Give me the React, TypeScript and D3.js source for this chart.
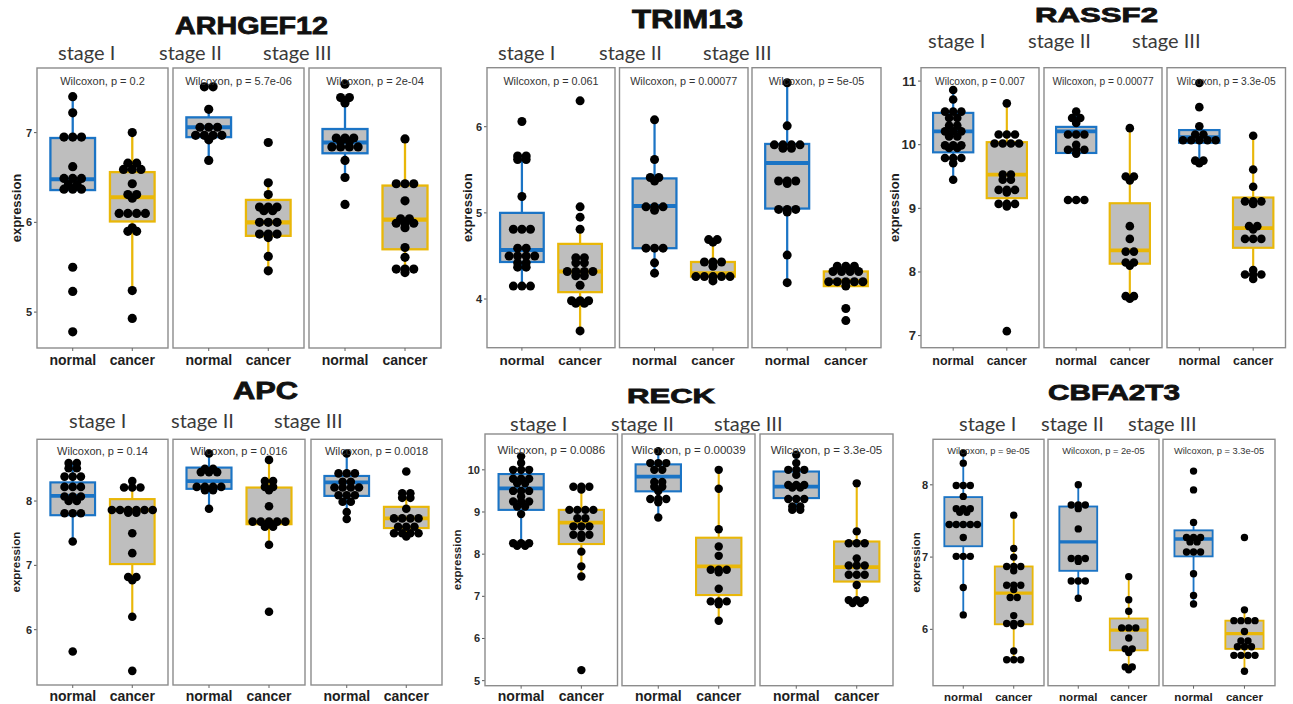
import React from "react";
import * as d3 from "d3";

// ---- shared categories ----
const stages = ["stage I", "stage II", "stage III"];
const groups = ["normal", "cancer"];

// Box stats per stage: [lower whisker, q1, median, q3, upper whisker]

// ---- ARHGEF12 ----
const arhgef12Normal = [
  [7.4, 7.22, 6.95, 6.95, 6.95, 6.62, 6.49, 6.49, 6.49, 6.42, 6.42, 6.37, 6.37, 6.37, 5.5, 5.23, 4.78],
  [7.51, 7.51, 7.26, 7.06, 7.06, 7.06, 6.97, 6.97, 6.97, 6.97, 6.92, 6.69],
  [7.54, 7.39, 7.39, 7.33, 6.94, 6.94, 6.94, 6.9, 6.9, 6.84, 6.84, 6.84, 6.84, 6.69, 6.5, 6.2],
];
const arhgef12Cancer = [
  [7.0, 6.66, 6.66, 6.59, 6.59, 6.59, 6.43, 6.31, 6.31, 6.27, 6.1, 6.1, 6.1, 6.1, 5.94, 5.9, 5.9, 5.24, 4.93],
  [6.89, 6.44, 6.31, 6.17, 6.17, 6.17, 6.13, 6.13, 6.0, 6.0, 6.0, 5.87, 5.87, 5.87, 5.83, 5.62, 5.46],
  [6.93, 6.43, 6.43, 6.43, 6.24, 6.04, 6.04, 5.99, 5.99, 5.99, 5.94, 5.72, 5.61, 5.48, 5.48, 5.48, 5.44],
];
const arhgef12NormalBox = [
  [6.36, 6.36, 6.48, 6.94, 7.4],
  [6.69, 6.95, 7.06, 7.17, 7.26],
  [6.5, 6.77, 6.89, 7.04, 7.39],
];
const arhgef12CancerBox = [
  [5.24, 6.01, 6.28, 6.56, 7.0],
  [5.46, 5.85, 6.0, 6.25, 6.44],
  [5.44, 5.7, 6.03, 6.41, 6.93],
];
const arhgef12P = ["0.2", "5.7e-06", "2e-04"];
const arhgef12Ticks = [5, 6, 7];

// ---- TRIM13 ----
const trim13Normal = [
  [6.06, 5.66, 5.66, 5.62, 5.62, 5.19, 4.81, 4.81, 4.81, 4.59, 4.59, 4.5, 4.5, 4.5, 4.5, 4.42, 4.42, 4.37, 4.37, 4.15, 4.15, 4.15],
  [6.08, 5.62, 5.41, 5.41, 5.37, 5.07, 5.07, 5.07, 5.03, 4.59, 4.59, 4.59, 4.42, 4.3],
  [6.51, 6.01, 5.79, 5.79, 5.79, 5.79, 5.75, 5.75, 5.37, 5.37, 5.37, 5.34, 5.04, 5.04, 5.04, 5.01, 4.51, 4.19],
];
const trim13Cancer = [
  [6.3, 5.07, 4.95, 4.81, 4.48, 4.48, 4.42, 4.42, 4.32, 4.32, 4.32, 4.32, 4.27, 4.27, 4.16, 3.98, 3.98, 3.98, 3.95, 3.95, 3.63],
  [4.69, 4.69, 4.66, 4.43, 4.43, 4.43, 4.38, 4.26, 4.26, 4.26, 4.26, 4.26, 4.21],
  [4.38, 4.38, 4.38, 4.32, 4.32, 4.32, 4.32, 4.2, 4.2, 4.2, 4.2, 4.2, 4.15, 3.89, 3.75],
];
const trim13NormalBox = [
  [4.15, 4.43, 4.57, 5.0, 5.62],
  [4.3, 4.59, 5.08, 5.4, 6.08],
  [4.19, 5.05, 5.58, 5.8, 6.51],
];
const trim13CancerBox = [
  [3.63, 4.08, 4.32, 4.64, 4.81],
  [4.21, 4.26, 4.3, 4.43, 4.69],
  [4.15, 4.15, 4.21, 4.32, 4.38],
];
const trim13P = ["0.061", "0.00077", "5e-05"];
const trim13Ticks = [4, 5, 6];

// ---- RASSF2 ----
const rassf2Normal = [
  [10.86, 10.71, 10.52, 10.52, 10.52, 10.42, 10.42, 10.3, 10.3, 10.21, 10.21, 10.21, 10.13, 10.13, 9.99, 9.99, 9.99, 9.95, 9.95, 9.79, 9.79, 9.79, 9.71, 9.45],
  [10.52, 10.42, 10.42, 10.34, 10.16, 10.16, 10.16, 10.0, 9.92, 9.92, 9.92, 9.86, 9.13, 9.13, 9.13],
  [10.97, 10.59, 10.29, 10.16, 10.16, 10.07, 10.07, 10.07, 10.07, 10.07, 9.75, 9.75, 9.71],
];
const rassf2Cancer = [
  [10.65, 10.16, 10.16, 10.16, 10.02, 10.02, 10.02, 10.02, 9.53, 9.53, 9.45, 9.45, 9.29, 9.29, 9.29, 9.25, 9.07, 9.07, 9.07, 9.03, 7.07],
  [10.26, 9.5, 9.5, 9.44, 8.72, 8.52, 8.32, 8.32, 8.15, 8.15, 8.1, 7.62, 7.62, 7.58],
  [10.14, 9.61, 9.34, 9.11, 9.11, 9.11, 9.07, 8.72, 8.72, 8.67, 8.52, 8.52, 8.52, 8.03, 7.96, 7.96, 7.96, 7.89],
];
const rassf2NormalBox = [
  [9.45, 9.88, 10.21, 10.5, 10.86],
  [9.87, 9.87, 10.21, 10.28, 10.52],
  [9.71, 10.03, 10.12, 10.23, 10.29],
];
const rassf2CancerBox = [
  [9.03, 9.16, 9.53, 10.04, 10.65],
  [7.58, 8.13, 8.34, 9.08, 10.26],
  [7.89, 8.38, 8.69, 9.17, 10.14],
];
const rassf2P = ["0.007", "0.00077", "3.3e-05"];
const rassf2Ticks = [7, 8, 9, 10, 11];

// ---- APC ----
const apcNormal = [
  [8.59, 8.59, 8.51, 8.51, 8.38, 8.38, 8.38, 8.22, 8.22, 8.22, 8.07, 8.07, 8.07, 8.0, 8.0, 7.81, 7.81, 7.81, 7.37, 5.66],
  [8.74, 8.5, 8.5, 8.45, 8.45, 8.45, 8.22, 8.22, 8.22, 8.22, 8.17, 8.17, 7.88],
  [8.74, 8.43, 8.43, 8.43, 8.3, 8.3, 8.21, 8.21, 8.21, 8.21, 8.09, 8.09, 8.09, 7.99, 7.99, 7.83, 7.72],
];
const apcCancer = [
  [8.31, 8.21, 8.21, 8.21, 7.86, 7.86, 7.86, 7.86, 7.86, 7.86, 7.82, 7.82, 7.5, 7.19, 6.82, 6.82, 6.77, 6.2, 5.36],
  [8.64, 8.31, 8.31, 8.22, 8.22, 8.17, 7.92, 7.68, 7.68, 7.68, 7.68, 7.68, 7.6, 7.6, 7.32, 6.28],
  [8.46, 8.12, 8.12, 8.05, 8.05, 7.88, 7.73, 7.73, 7.73, 7.73, 7.6, 7.6, 7.6, 7.5, 7.5, 7.5, 7.5, 7.45],
];
const apcNormalBox = [
  [7.37, 7.78, 8.08, 8.29, 8.59],
  [7.88, 8.19, 8.31, 8.52, 8.74],
  [7.72, 8.08, 8.29, 8.39, 8.74],
];
const apcCancerBox = [
  [6.2, 7.02, 7.86, 8.03, 8.31],
  [7.32, 7.64, 7.68, 8.21, 8.64],
  [7.45, 7.58, 7.73, 7.91, 8.05],
];
const apcP = ["0.14", "0.016", "0.0018"];
const apcTicks = [6, 7, 8];

// ---- RECK ----
const reckNormal = [
  [10.32, 10.16, 10.0, 10.0, 10.0, 9.79, 9.79, 9.79, 9.68, 9.68, 9.5, 9.5, 9.5, 9.37, 9.25, 9.25, 9.25, 9.13, 9.13, 8.95, 8.26, 8.26, 8.26, 8.2, 8.2],
  [10.44, 10.16, 10.16, 10.16, 10.0, 10.0, 9.71, 9.71, 9.6, 9.6, 9.5, 9.31, 9.31, 9.31, 9.23, 8.87],
  [10.36, 10.16, 10.0, 10.0, 10.0, 9.88, 9.64, 9.64, 9.64, 9.58, 9.58, 9.31, 9.31, 9.31, 9.13, 9.13, 9.05, 9.05],
];
const reckCancer = [
  [9.6, 9.6, 9.6, 9.53, 9.05, 9.05, 9.05, 9.05, 8.85, 8.85, 8.66, 8.66, 8.66, 8.46, 8.46, 8.46, 8.39, 8.06, 7.71, 7.47, 5.25],
  [10.0, 9.55, 8.59, 8.18, 7.96, 7.63, 7.63, 7.63, 7.57, 7.18, 6.88, 6.88, 6.88, 6.81, 6.42],
  [9.68, 8.54, 8.26, 8.26, 8.26, 7.9, 7.73, 7.73, 7.73, 7.51, 7.51, 7.51, 7.27, 6.91, 6.91, 6.91, 6.84, 6.84],
];
const reckNormalBox = [
  [8.2, 9.05, 9.56, 9.9, 10.32],
  [8.87, 9.49, 9.84, 10.13, 10.44],
  [9.05, 9.33, 9.6, 9.96, 10.36],
];
const reckCancerBox = [
  [7.47, 8.24, 8.75, 9.05, 9.6],
  [6.42, 7.03, 7.71, 8.39, 10.0],
  [6.84, 7.35, 7.69, 8.3, 9.68],
];
const reckP = ["0.0086", "0.00039", "3.3e-05"];
const reckTicks = [5, 6, 7, 8, 9, 10];

// ---- CBFA2T3 ----
const cbfa2t3Normal = [
  [8.44, 8.3, 7.99, 7.99, 7.99, 7.84, 7.67, 7.67, 7.67, 7.62, 7.62, 7.45, 7.45, 7.45, 7.45, 7.45, 7.27, 7.01, 7.01, 7.01, 6.58, 6.2],
  [8.0, 7.72, 7.72, 7.72, 7.67, 7.39, 6.98, 6.98, 6.98, 6.94, 6.67, 6.67, 6.67, 6.43],
  [8.19, 7.93, 7.48, 7.27, 7.27, 7.27, 7.21, 7.21, 7.07, 7.07, 7.07, 6.77, 6.47, 6.35],
];
const cbfa2t3Cancer = [
  [7.58, 7.12, 7.0, 6.87, 6.87, 6.87, 6.81, 6.61, 6.61, 6.61, 6.55, 6.44, 6.44, 6.19, 6.08, 6.08, 6.08, 6.05, 5.7, 5.58, 5.58, 5.58],
  [6.73, 6.41, 6.25, 6.02, 6.02, 6.02, 5.88, 5.73, 5.73, 5.68, 5.48, 5.48, 5.44],
  [7.27, 6.27, 6.12, 6.12, 6.12, 6.12, 5.97, 5.84, 5.84, 5.76, 5.76, 5.76, 5.64, 5.64, 5.64, 5.64, 5.42],
];
const cbfa2t3NormalBox = [
  [6.2, 7.15, 7.45, 7.83, 8.44],
  [6.43, 6.81, 7.21, 7.7, 8.0],
  [6.35, 7.01, 7.25, 7.37, 7.48],
];
const cbfa2t3CancerBox = [
  [5.58, 6.07, 6.5, 6.87, 7.58],
  [5.44, 5.71, 5.99, 6.15, 6.73],
  [5.42, 5.73, 5.94, 6.12, 6.27],
];
const cbfa2t3P = ["9e-05", "2e-05", "3.3e-05"];
const cbfa2t3Ticks = [6, 7, 8];

// ---- styling ----
const BLUE = "#1b74c5";
const YELLOW = "#e9b708";
const BOX_FILL = "#bebebe";
const BORDER = "#8c8c8c";
const TEXT = "#1e1e1e";

type Layout = {
  title: string;
  titleX: number; titleY: number; titleW: number; titleSize: number;
  stageX: number[]; stageY: number; stageSize: number;
  facets: [number, number][];
  top: number; bottom: number; domain: [number, number];
  pY: number; pSize: number;
  tickSize: number; ylabX: number; ylabSize: number;
  xlabY: number; xlabSize: number; r: number;
};

type PanelData = {
  normal: number[][]; cancer: number[][];
  normalBox: number[][]; cancerBox: number[][];
  p: string[]; ticks: number[];
};

const layouts: Layout[] = [
  {
    title: "ARHGEF12", titleX: 175, titleY: 34, titleW: 153, titleSize: 24,
    stageX: [58, 159, 263], stageY: 60, stageSize: 20,
    facets: [[37, 168], [173, 304], [309, 441]],
    top: 68, bottom: 348, domain: [4.6, 7.72],
    pY: 81, pSize: 11, tickSize: 11, ylabX: 16, ylabSize: 13,
    xlabY: 365, xlabSize: 14, r: 4.6,
  },
  {
    title: "TRIM13", titleX: 632, titleY: 28, titleW: 111, titleSize: 25,
    stageX: [498, 599, 703], stageY: 60, stageSize: 20,
    facets: [[487, 615], [619.5, 748], [752, 881]],
    top: 67.7, bottom: 347.7, domain: [3.435, 6.685],
    pY: 81, pSize: 10.8, tickSize: 11, ylabX: 467, ylabSize: 13,
    xlabY: 365, xlabSize: 13.5, r: 4.5,
  },
  {
    title: "RASSF2", titleX: 1035, titleY: 22, titleW: 123, titleSize: 21,
    stageX: [928, 1028, 1132], stageY: 48, stageSize: 20,
    facets: [[921, 1039], [1044, 1162], [1167, 1285.5]],
    top: 67.7, bottom: 347.7, domain: [6.81, 11.21],
    pY: 81, pSize: 10.2, tickSize: 13, ylabX: 894, ylabSize: 13,
    xlabY: 365, xlabSize: 12.5, r: 4.3,
  },
  {
    title: "APC", titleX: 233, titleY: 399, titleW: 65, titleSize: 24,
    stageX: [69, 171, 274], stageY: 428, stageSize: 20,
    facets: [[37, 168], [173, 305], [311, 442]],
    top: 439.3, bottom: 685, domain: [5.14, 8.96],
    pY: 451, pSize: 11, tickSize: 11, ylabX: 15.5, ylabSize: 11.5,
    xlabY: 701, xlabSize: 14, r: 4.3,
  },
  {
    title: "RECK", titleX: 627, titleY: 402.5, titleW: 88, titleSize: 20.5,
    stageX: [510, 611, 714], stageY: 431, stageSize: 20,
    facets: [[485, 617.5], [622, 755], [760, 893]],
    top: 434, bottom: 685.7, domain: [4.88, 10.85],
    pY: 449.5, pSize: 11.5, tickSize: 11, ylabX: 456.5, ylabSize: 11.5,
    xlabY: 701, xlabSize: 14, r: 4.2,
  },
  {
    title: "CBFA2T3", titleX: 1048, titleY: 400, titleW: 132, titleSize: 22,
    stageX: [959, 1041, 1128], stageY: 431, stageSize: 20,
    facets: [[933, 1044], [1048, 1159], [1163, 1275]],
    top: 439.3, bottom: 685.7, domain: [5.22, 8.63],
    pY: 451, pSize: 9.3, tickSize: 11, ylabX: 916, ylabSize: 11.5,
    xlabY: 701, xlabSize: 11.5, r: 3.7,
  },
];

const panelData: PanelData[] = [
  { normal: arhgef12Normal, cancer: arhgef12Cancer, normalBox: arhgef12NormalBox, cancerBox: arhgef12CancerBox, p: arhgef12P, ticks: arhgef12Ticks },
  { normal: trim13Normal, cancer: trim13Cancer, normalBox: trim13NormalBox, cancerBox: trim13CancerBox, p: trim13P, ticks: trim13Ticks },
  { normal: rassf2Normal, cancer: rassf2Cancer, normalBox: rassf2NormalBox, cancerBox: rassf2CancerBox, p: rassf2P, ticks: rassf2Ticks },
  { normal: apcNormal, cancer: apcCancer, normalBox: apcNormalBox, cancerBox: apcCancerBox, p: apcP, ticks: apcTicks },
  { normal: reckNormal, cancer: reckCancer, normalBox: reckNormalBox, cancerBox: reckCancerBox, p: reckP, ticks: reckTicks },
  { normal: cbfa2t3Normal, cancer: cbfa2t3Cancer, normalBox: cbfa2t3NormalBox, cancerBox: cbfa2t3CancerBox, p: cbfa2t3P, ticks: cbfa2t3Ticks },
];

const SANS = "'Liberation Sans', Arial, sans-serif";

function Panel({ L, D }: { L: Layout; D: PanelData }) {
  const y = d3.scaleLinear().domain(L.domain).range([L.bottom, L.top]);
  const r = L.r;
  const lw = Math.max(1.8, r * 0.5);
  const spacing = r * 1.9;

  return (
    <g>
      <text
        x={L.titleX} y={L.titleY} textLength={L.titleW} lengthAdjust="spacingAndGlyphs"
        fontFamily={SANS} fontWeight={700} fontSize={L.titleSize} fill="#111"
        stroke="#111" strokeWidth={0.8}
      >{L.title}</text>

      {stages.map((s, i) => (
        <text key={s} x={L.stageX[i]} y={L.stageY} fontFamily="Lato, 'Open Sans', sans-serif"
          fontSize={L.stageSize} fill="#3a3a3a">{s}</text>
      ))}

      {/* y axis */}
      <text
        transform={`translate(${L.ylabX},${(L.top + L.bottom) / 2}) rotate(-90)`}
        textAnchor="middle" dominantBaseline="central"
        fontFamily={SANS} fontWeight={700} fontSize={L.ylabSize} fill={TEXT}
      >expression</text>
      {D.ticks.map((t) => (
        <g key={t}>
          <line x1={L.facets[0][0] - 3} x2={L.facets[0][0]} y1={y(t)} y2={y(t)} stroke="#555" strokeWidth={1} />
          <text x={L.facets[0][0] - 5} y={y(t)} textAnchor="end" dominantBaseline="central"
            fontFamily={SANS} fontWeight={700} fontSize={L.tickSize} fill="#2a2a2a">{t}</text>
        </g>
      ))}

      {stages.map((s, i) => {
        const [x0, x1] = L.facets[i];
        const x = d3.scalePoint<string>().domain(groups).range([x0, x1]).padding(0.6);
        const bw = x.step() * 0.75;
        const sets = [
          { g: "normal", vals: D.normal[i], box: D.normalBox[i], color: BLUE },
          { g: "cancer", vals: D.cancer[i], box: D.cancerBox[i], color: YELLOW },
        ];
        return (
          <g key={s}>
            <rect x={x0} y={L.top} width={x1 - x0} height={L.bottom - L.top}
              fill="#fff" stroke={BORDER} strokeWidth={1.4} />
            {groups.map((g) => (
              <line key={g} x1={x(g)} x2={x(g)} y1={L.bottom} y2={L.bottom + 3} stroke="#666" strokeWidth={1} />
            ))}
            {sets.map(({ g, box, color }) => {
              const cx = x(g) as number;
              const [lo, q1, med, q3, hi] = box;
              return (
                <g key={g}>
                  <line x1={cx} x2={cx} y1={y(hi)} y2={y(q3)} stroke={color} strokeWidth={lw} />
                  <line x1={cx} x2={cx} y1={y(q1)} y2={y(lo)} stroke={color} strokeWidth={lw} />
                  <rect x={cx - bw / 2} y={y(q3)} width={bw} height={y(q1) - y(q3)}
                    fill={BOX_FILL} stroke={color} strokeWidth={lw} />
                  <line x1={cx - bw / 2} x2={cx + bw / 2} y1={y(med)} y2={y(med)} stroke={color} strokeWidth={lw * 1.8} />
                </g>
              );
            })}
            {sets.map(({ g, vals }) => {
              const cx = x(g) as number;
              const rows = Array.from(d3.rollup(vals, (v) => v.length, (v) => v));
              return (
                <g key={g + "-dots"}>
                  {rows.flatMap(([v, n]) =>
                    d3.range(n).map((k) => (
                      <circle key={`${v}-${k}`} cx={cx + (k - (n - 1) / 2) * spacing} cy={y(v)} r={r} fill="#000" />
                    ))
                  )}
                </g>
              );
            })}
            <text x={(x0 + x1) / 2} y={L.pY} textAnchor="middle" dominantBaseline="central"
              fontFamily={SANS} fontSize={L.pSize} fill="#333">{`Wilcoxon, p = ${D.p[i]}`}</text>
            {groups.map((g) => (
              <text key={g} x={x(g)} y={L.xlabY} textAnchor="middle" fontFamily={SANS}
                fontWeight={700} fontSize={L.xlabSize} fill={TEXT}>{g}</text>
            ))}
          </g>
        );
      })}
    </g>
  );
}

export default function App() {
  return (
    <svg width={1293} height={704} style={{ position: "absolute", left: 0, top: 0, background: "#fff" }}>
      <rect width={1293} height={704} fill="#fff" />
      {layouts.map((L, i) => (
        <Panel key={L.title} L={L} D={panelData[i]} />
      ))}
    </svg>
  );
}
